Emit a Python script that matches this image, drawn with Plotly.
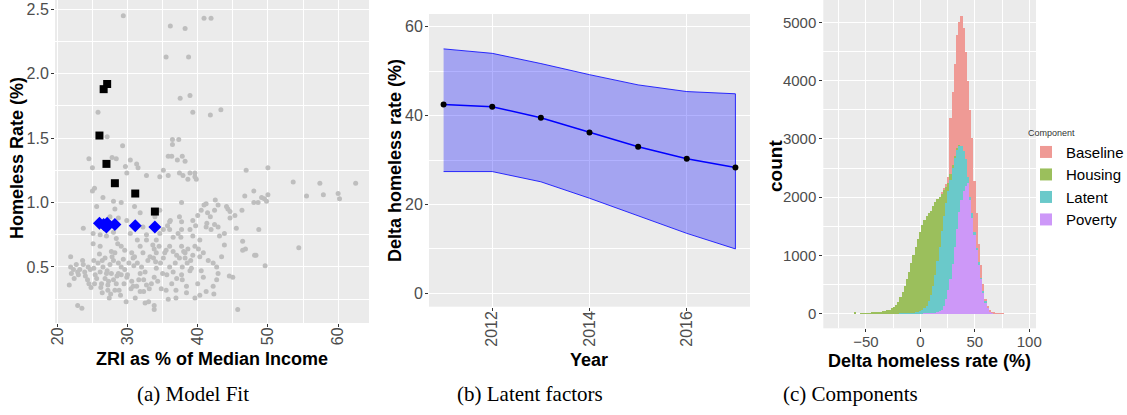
import plotly.graph_objects as go

# ---------------- Panel (a): Model fit scatter ----------------
grey_x = [29.4, 40.9, 41.9, 36.1, 38.2, 35.5, 38.7, 37.5, 38.9, 43.3, 41.8, 39.3, 25.8, 27.1,
          36.4, 36.4, 37.3, 29.3, 24.5, 25.0, 27.8, 28.4, 30.4, 31.3, 31.5, 29.7, 29.9,
          35.8, 36.3, 37.1, 37.8, 38.2, 35.1, 35.8, 34.6, 32.7, 37.4, 37.9, 38.9, 39.6, 39.6, 38.6, 39.8,
          25.3, 25.0, 26.5, 28.0, 29.1, 28.2, 31.0, 25.6, 37.7, 46.9, 50.0, 46.7, 48.0,
          53.6, 57.4, 62.5, 55.5, 57.9, 60.0, 60.2, 48.0, 48.6, 49.1, 49.5, 49.8, 50.0,
          54.4, 49.6, 48.7, 45.5, 46.4, 46.8, 46.4, 48.1, 48.3,
          46.3, 44.1, 44.3, 44.6, 44.6, 45.3, 45.7, 44.5, 42.7, 42.3, 42.7,
          40.3, 40.5, 40.0, 40.8, 41.4, 42.4, 41.8, 41.3, 42.4, 41.9, 41.2,
          40.5, 40.9, 40.0, 39.3, 39.7, 37.4, 37.7, 36.1, 36.0, 35.7,
          37.2, 37.6, 36.5, 37.7, 35.1, 34.6, 34.1, 33.6, 32.7, 32.7, 33.8,
          31.4, 31.8, 31.0, 30.6, 28.4, 28.6, 27.0, 27.7, 28.2, 29.1, 29.6, 26.1, 25.1,
          22.9, 23.5, 33.8, 33.8, 33.0, 32.5, 29.8, 26.4, 27.4, 27.2, 35.8, 36.9, 31.1,
          21.7, 21.9, 21.9, 22.3, 22.7, 23.6, 23.7, 23.9, 24.3, 24.5, 22.4, 25.4, 25.3, 26.1, 25.8,
          26.4, 26.8, 27.5, 27.1, 27.7, 28.0, 28.4, 28.8, 29.5, 29.9, 29.6, 30.2, 30.8, 31.4, 32.0,
          31.8, 32.3, 32.7, 33.4, 33.8, 34.1, 34.7, 35.1, 35.3, 36.0, 36.5, 37.0, 36.3, 35.5, 34.8,
          37.8, 38.2, 38.5, 39.0, 39.3, 38.9, 37.8, 38.4, 37.7, 36.9, 30.6, 30.8, 31.3, 31.8, 32.3,
          28.2, 27.2, 26.8, 26.3, 27.0, 26.5, 28.0, 28.7, 29.1, 29.1, 28.7, 25.2, 25.2, 24.4, 23.2,
          22.9, 32.2, 33.2, 33.7, 34.1, 34.5, 35.5, 36.0, 36.5, 37.0, 37.4, 38.2, 38.6, 39.6, 40.1,
          40.8, 41.5, 42.2, 43.4, 43.8, 43.8, 43.1, 42.9, 40.3, 39.3, 38.9, 36.0, 37.7, 23.7, 25.1,
          26.1, 26.9, 28.0, 30.4, 31.0, 32.2, 29.9, 28.7, 27.5, 33.9, 34.6, 31.8, 41.2, 42.5, 42.9,
          42.2, 40.3, 39.6, 38.4, 41.2, 45.0, 42.9,
          24.0, 24.8, 25.6, 26.2, 27.3, 28.5, 29.0, 30.0, 30.5, 31.6, 32.5, 33.1, 34.3, 35.0,
          26.0, 27.8, 29.4, 30.9, 32.9, 34.0, 35.6, 36.8, 38.0, 39.1, 22.0, 23.0, 24.7, 27.6]
grey_y = [2.45, 2.43, 2.43, 2.37, 2.35, 2.13, 2.13, 1.81, 1.83, 1.72, 1.68, 1.70, 1.70, 1.51,
          1.49, 1.45, 1.49, 1.44, 1.34, 1.27, 1.35, 1.34, 1.33, 1.30, 1.27, 1.28, 1.23,
          1.36, 1.36, 1.33, 1.36, 1.32, 1.25, 1.21, 1.20, 1.21, 1.23, 1.21, 1.23, 1.23, 1.20, 1.18, 1.18,
          1.11, 1.09, 1.04, 1.01, 1.00, 0.95, 0.97, 0.97, 1.00, 1.25, 1.27, 1.05, 1.09,
          1.16, 1.15, 1.15, 1.05, 1.06, 1.07, 1.03, 1.00, 1.00, 1.04, 1.03, 1.01, 1.06,
          0.65, 0.51, 0.79, 0.80, 0.70, 0.64, 0.63, 0.59, 0.59,
          0.94, 0.97, 0.95, 0.93, 0.88, 0.90, 0.17, 0.43, 0.40, 0.29, 0.50,
          0.58, 0.47, 0.37, 0.42, 0.92, 0.94, 0.89, 0.84, 0.83, 0.79, 0.81,
          0.94, 0.98, 0.90, 0.86, 0.82, 0.89, 0.85, 0.86, 0.85, 0.82,
          0.76, 0.73, 0.73, 0.66, 0.79, 0.76, 0.71, 0.67, 0.75, 0.71, 0.64,
          0.71, 0.66, 0.58, 0.61, 0.72, 0.68, 0.74, 0.62, 0.61, 0.66, 0.63, 0.66, 0.68,
          0.20, 0.18, 0.20, 0.17, 0.23, 0.22, 0.23, 0.30, 0.26, 0.32, 0.25, 0.26, 0.26,
          0.36, 0.50, 0.58, 0.48, 0.52, 0.55, 0.52, 0.46, 0.40, 0.37, 0.41, 0.44, 0.37, 0.46, 0.53,
          0.55, 0.57, 0.52, 0.47, 0.45, 0.40, 0.37, 0.32, 0.37, 0.42, 0.48, 0.53, 0.57, 0.53, 0.50,
          0.45, 0.40, 0.36, 0.37, 0.42, 0.49, 0.53, 0.57, 0.61, 0.50, 0.46, 0.41, 0.37, 0.32, 0.33,
          0.50, 0.57, 0.53, 0.55, 0.59, 0.47, 0.40, 0.35, 0.44, 0.32, 0.39, 0.35, 0.35, 0.31, 0.31,
          0.32, 0.36, 0.41, 0.37, 0.45, 0.50, 0.55, 0.53, 0.50, 0.44, 0.45, 0.49, 0.55, 0.50, 0.48,
          0.46, 0.61, 0.58, 0.57, 0.61, 0.66, 0.63, 0.66, 0.62, 0.59, 0.57, 0.61, 0.64, 0.66, 0.64,
          0.61, 0.55, 0.53, 0.58, 0.67, 0.76, 0.74, 0.81, 0.71, 0.74, 0.79, 0.79, 0.79, 0.80, 0.76,
          0.75, 0.79, 0.77, 0.76, 0.81, 0.81, 0.86, 0.88, 0.89, 0.89, 0.94, 0.92, 0.99, 1.02, 0.98,
          0.35, 0.28, 0.26, 0.30, 0.31, 0.42, 0.45,
          0.43, 0.34, 0.41, 0.34, 0.39, 0.43, 0.28, 0.44, 0.33, 0.40, 0.46, 0.33, 0.39, 0.45,
          0.60, 0.58, 0.56, 0.51, 0.55, 0.54, 0.44, 0.53, 0.62, 0.49, 0.45, 0.44, 0.48, 0.29]

obs_x = [26.6, 27.1, 26.0, 27.0, 28.2, 31.1, 33.9]
obs_y = [1.88, 1.92, 1.52, 1.30, 1.15, 1.07, 0.93]
fit_x = [26.6, 27.1, 26.0, 27.0, 28.2, 31.1, 33.9]
fit_y = [0.83, 0.84, 0.84, 0.81, 0.83, 0.82, 0.81]

# ---------------- Panel (b): Latent factors ----------------
years = [2011, 2012, 2013, 2014, 2015, 2016, 2017]
lat_mean = [42.5, 42.0, 39.5, 36.2, 33.0, 30.3, 28.3]
lat_upper = [55.0, 54.0, 51.7, 49.2, 46.9, 45.4, 44.9]
lat_lower = [27.4, 27.4, 25.1, 21.4, 17.4, 13.5, 10.0]

# ---------------- Panel (c): Components histogram (bin width 2) ----------------
bin_centers = list(range(-60, 78, 2))
poverty = [0, 0, 0, 0, 0, 0, 0, 0, 0, 0, 0, 0, 0, 0, 0, 0, 0, 0, 0, 0,
           0, 0, 0, 0, 0, 0, 1, 1, 2, 2, 3, 4, 5, 6, 8, 10, 14, 20, 28, 40,
           65, 130, 250, 400, 600, 850, 1150, 1450, 1750, 1950, 2100, 2200, 2250, 1950, 1650, 1350, 1100, 850, 600, 370,
           200, 100, 40, 15, 5, 2, 0, 0, 0]
latent = [0, 0, 0, 0, 0, 0, 0, 0, 0, 0, 0, 0, 0, 0, 0, 0, 0, 0, 2, 3,
          4, 5, 6, 8, 10, 12, 14, 17, 20, 28, 37, 56, 85, 134, 202, 310, 456, 650, 872, 1110,
          1355, 1550, 1650, 1700, 1700, 1650, 1530, 1370, 1130, 930, 700, 450, 100, 50, 70, 50, 30, 30, 20, 15,
          10, 5, 2, 1, 0, 0, 0, 0, 0]
housing = [15, 0, 0, 2, 3, 5, 8, 10, 13, 16, 20, 25, 32, 40, 48, 58, 72, 90, 115, 148,
           202, 281, 370, 474, 592, 710, 848, 985, 1122, 1258, 1370, 1470, 1520, 1540, 1510, 1450, 1370, 1250, 1070, 860,
           640, 440, 270, 150, 100, 50, 30, 20, 10, 5, 0, 0, 0, 0, 0, 0, 0, 0, 0, 0,
           0, 0, 0, 0, 0, 0, 0, 0, 0]
baseline = [0, 0, 0, 0, 0, 0, 0, 0, 0, 0, 0, 0, 0, 0, 0, 0, 0, 0, 0, 0,
            0, 0, 0, 0, 0, 0, 0, 0, 0, 0, 0, 0, 0, 0, 0, 0, 0, 0, 0, 0,
            20, 40, 50, 100, 950, 1250, 1570, 1950, 2120, 2215, 2100, 1840, 1650, 1500, 1300, 880, 600, 320, 220, 130,
            35, 20, 15, 13, 12, 9, 5, 3, 2]
components = ["Poverty", "Latent", "Housing", "Baseline"]
comp_colors = {"Baseline": "#EF9A95", "Housing": "#9BBF5C",
               "Latent": "#6AC9CA", "Poverty": "#CD98F8"}

captions = ["(a) Model Fit", "(b) Latent factors", "(c) Components"]

FONT = "Liberation Sans, Arial, sans-serif"
PANEL = "#EBEBEB"
TICKC = "#4D4D4D"

fig = go.Figure()

# Panel a
fig.add_trace(go.Scatter(x=grey_x, y=grey_y, mode="markers", xaxis="x", yaxis="y",
                         marker=dict(color="#BEBEBE", size=5), showlegend=False))
fig.add_trace(go.Scatter(x=obs_x, y=obs_y, mode="markers", xaxis="x", yaxis="y",
                         marker=dict(color="black", size=8, symbol="square"), showlegend=False))
fig.add_trace(go.Scatter(x=fit_x, y=fit_y, mode="markers", xaxis="x", yaxis="y",
                         marker=dict(color="#0000FF", size=10, symbol="diamond"), showlegend=False))

# Panel b
fig.add_trace(go.Scatter(x=years + years[::-1], y=lat_upper + lat_lower[::-1], mode="lines",
                         fill="toself", fillcolor="rgba(0,0,255,0.3)",
                         line=dict(color="rgba(0,0,255,0.8)", width=1),
                         xaxis="x2", yaxis="y2", showlegend=False))
fig.add_trace(go.Scatter(x=years, y=lat_mean, mode="lines+markers",
                         line=dict(color="#0000FF", width=1.5),
                         marker=dict(color="black", size=6),
                         xaxis="x2", yaxis="y2", showlegend=False))

# Panel c
comp_data = {"Poverty": poverty, "Latent": latent, "Housing": housing, "Baseline": baseline}
for c in components:
    fig.add_trace(go.Bar(x=bin_centers, y=comp_data[c], width=[2] * len(bin_centers),
                         name=c, marker=dict(color=comp_colors[c], line=dict(width=0)),
                         xaxis="x3", yaxis="y3", showlegend=True))

W, H = 1127, 415

def xd(a, b):
    return [a / W, b / W]

def yd(top, bottom):
    return [(H - bottom) / H, (H - top) / H]

tickfont = dict(family=FONT, size=16, color=TICKC)
tickfont_c = dict(family=FONT, size=15, color=TICKC)
common = dict(showline=False, zeroline=False, ticks="outside", ticklen=3, tickcolor="#333333",
              gridcolor="white", gridwidth=1.1, showgrid=True)
minor_style = dict(showgrid=True, gridcolor="white", gridwidth=0.5, ticks="")

fig.update_layout(
    width=W, height=H, margin=dict(l=0, r=0, t=0, b=0, autoexpand=False),
    paper_bgcolor="white", plot_bgcolor=PANEL,
    barmode="stack", bargap=0,
    font=dict(family=FONT),
    xaxis=dict(domain=xd(55, 369), anchor="y", range=[19.67, 64.4], dtick=10, tick0=20, tickangle=-90,
               minor=dict(dtick=5, tick0=20, **minor_style), tickfont=tickfont,
               ticklabelstandoff=-6, **common),
    yaxis=dict(domain=yd(0, 323), anchor="x", range=[0.065, 2.572], dtick=0.5, tick0=0.5,
               tickformat=".1f", minor=dict(dtick=0.25, tick0=0.25, **minor_style), tickfont=tickfont,
               ticklabelstandoff=-1, **common),
    xaxis2=dict(domain=xd(429, 750), anchor="y2", range=[2010.7, 2017.3], dtick=2, tick0=2012,
                tickangle=-90, tickfont=tickfont, ticklabelstandoff=-6, **common),
    yaxis2=dict(domain=yd(14, 306.7), anchor="x2", range=[-3.0, 62.85], dtick=20, tick0=0,
                minor=dict(dtick=10, tick0=10, **minor_style), tickfont=tickfont,
                ticklabelstandoff=-1, **common),
    xaxis3=dict(domain=xd(823.3, 1036), anchor="y3", range=[-89.2, 106.2], dtick=50, tick0=0,
                minor=dict(dtick=25, tick0=25, **minor_style), tickfont=tickfont_c,
                ticklabelstandoff=-3, **common),
    yaxis3=dict(domain=yd(0, 328.3), anchor="x3", range=[-250, 5383], dtick=1000, tick0=0,
                minor=dict(dtick=500, tick0=500, **minor_style), tickfont=tickfont_c, **common),
    legend=dict(x=1026 / W, y=(H - 124) / H, xanchor="left", yanchor="top",
                traceorder="reversed", bgcolor="rgba(0,0,0,0)",
                font=dict(family=FONT, size=15, color="black"),
                title=dict(text="Component", font=dict(family=FONT, size=9, color="#333333")),
                itemwidth=30, tracegroupgap=0, itemsizing="constant"),
)

# Axis titles (placed as annotations for exact positioning)
axis_titles = [
    ("ZRI as % of Median Income", 212, 359, 0, 18),
    ("Homeless Rate (%)", 17, 158, -90, 18),
    ("Year", 589, 360, 0, 18),
    ("Delta homeless rate (%)", 395, 161, -90, 18),
    ("Delta homeless rate (%)", 929, 361, 0, 18),
    ("count", 775, 166, -90, 19),
]
for txt, px, py, ang, fs in axis_titles:
    fig.add_annotation(text=txt, x=px / W, y=(H - py) / H, xref="paper", yref="paper",
                       showarrow=False, xanchor="center", yanchor="middle", textangle=ang,
                       font=dict(family=FONT, size=fs, color="black", weight="bold"))

cap_x = [193, 530, 850]
for t, cx in zip(captions, cap_x):
    fig.add_annotation(text=t, x=cx / W, y=(H - 394) / H, xref="paper", yref="paper",
                       showarrow=False, xanchor="center", yanchor="middle",
                       font=dict(family="Liberation Serif, DejaVu Serif, serif", size=21, color="black"))

fig.write_html("out.html", config={"displayModeBar": False},
               post_script="document.body.style.margin='0';")
